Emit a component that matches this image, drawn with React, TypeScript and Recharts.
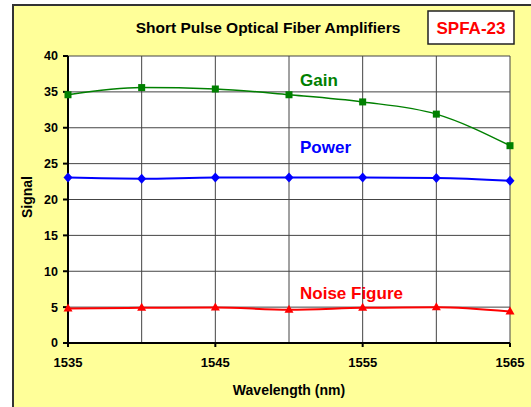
import React from 'react';
import { LineChart, Line, XAxis, YAxis, CartesianGrid } from 'recharts';

const wavelengths = [1535, 1540, 1545, 1550, 1555, 1560, 1565];
const gain = [34.6, 35.6, 35.4, 34.6, 33.6, 31.9, 27.5];
const power = [23.05, 22.9, 23.05, 23.05, 23.05, 23.0, 22.6];
const noiseFigure = [4.8, 4.9, 4.95, 4.65, 4.9, 5.0, 4.4];

const xTicks = [1535, 1540, 1545, 1550, 1555, 1560, 1565];
const xLabelTicks = [1535, 1545, 1555, 1565];
const yTicks = [0, 5, 10, 15, 20, 25, 30, 35, 40];

const data = wavelengths.map((w, i) => ({
  w,
  gain: gain[i],
  power: power[i],
  noise: noiseFigure[i],
}));

const FONT = '"Liberation Sans", Arial, sans-serif';

const XTick = (props: any) => {
  const { x, y, payload } = props;
  if (!xLabelTicks.includes(payload.value)) return <g />;
  return (
    <g>
      <line x1={x} x2={x} y1={y - 8} y2={y - 4} stroke="#000" strokeWidth={2} />
      <text x={x} y={y + 16} textAnchor="middle" fontFamily={FONT} fontWeight="bold" fontSize={13} fill="#000">
        {payload.value}
      </text>
    </g>
  );
};

const squareDot = (props: any) => {
  const { cx, cy, index } = props;
  return <rect key={`g${index}`} x={cx - 3.5} y={cy - 3.5} width={7} height={7} fill="#008000" />;
};
const diamondDot = (props: any) => {
  const { cx, cy, index } = props;
  return (
    <polygon
      key={`p${index}`}
      points={`${cx},${cy - 5} ${cx + 4.5},${cy} ${cx},${cy + 5} ${cx - 4.5},${cy}`}
      fill="#0000FF"
    />
  );
};
const triangleDot = (props: any) => {
  const { cx, cy, index } = props;
  return (
    <polygon
      key={`n${index}`}
      points={`${cx},${cy - 5} ${cx + 4.5},${cy + 3} ${cx - 4.5},${cy + 3}`}
      fill="#FF0000"
    />
  );
};

export default function App() {
  return (
    <div style={{ position: 'absolute', left: 0, top: 0, width: 531, height: 407, overflow: 'hidden', background: '#fff' }}>
      <div
        style={{
          position: 'absolute',
          left: 12,
          top: 4,
          width: 540,
          height: 420,
          background: '#FFFF99',
          borderLeft: '2px solid #333',
          borderTop: '2px solid #333',
        }}
      />
      <div style={{ position: 'absolute', left: 0, top: 0 }}>
        <LineChart width={531} height={407} data={data} margin={{ top: 56, right: 21, left: 28, bottom: 34 }}>
          <CartesianGrid fill="#fff" stroke="#444" strokeWidth={1} />
          <XAxis
            dataKey="w"
            type="number"
            domain={[1535, 1565]}
            ticks={xTicks}
            interval={0}
            tickLine={false}
            axisLine={{ stroke: '#000', strokeWidth: 2 }}
            tick={<XTick />}
            height={30}
          />
          <YAxis
            type="number"
            domain={[0, 40]}
            ticks={yTicks}
            interval={0}
            width={40}
            tickSize={5}
            tickMargin={5}
            tickLine={{ stroke: '#000', strokeWidth: 2 }}
            axisLine={{ stroke: '#000', strokeWidth: 2 }}
            tick={{ fill: '#000', fontFamily: FONT, fontWeight: 'bold', fontSize: 12.5 }}
          />
          <Line type="monotone" dataKey="gain" stroke="#008000" strokeWidth={1.5} dot={squareDot} isAnimationActive={false} />
          <Line type="monotone" dataKey="power" stroke="#0000FF" strokeWidth={2} dot={diamondDot} isAnimationActive={false} />
          <Line type="monotone" dataKey="noise" stroke="#FF0000" strokeWidth={2} dot={triangleDot} isAnimationActive={false} />
        </LineChart>
      </div>
      <svg width={531} height={407} style={{ position: 'absolute', left: 0, top: 0, pointerEvents: 'none' }}>
        <text x={268} y={33} textAnchor="middle" fontFamily={FONT} fontWeight="bold" fontSize={15.5} fill="#000">
          Short Pulse Optical Fiber Amplifiers
        </text>
        <rect x={428} y={11} width={86} height={33} fill="#fff" stroke="#222" strokeWidth={1.5} />
        <text x={471} y={34} textAnchor="middle" fontFamily={FONT} fontWeight="bold" fontSize={17} fill="#FF0000">
          SPFA-23
        </text>
        <text x={300} y={86} fontFamily={FONT} fontWeight="bold" fontSize={17} fill="#008000">Gain</text>
        <text x={300} y={153} fontFamily={FONT} fontWeight="bold" fontSize={17} fill="#0000FF">Power</text>
        <text x={300} y={299} fontFamily={FONT} fontWeight="bold" fontSize={17} fill="#FF0000">Noise Figure</text>
        <text
          x={0}
          y={0}
          transform="translate(32,197) rotate(-90)"
          textAnchor="middle"
          fontFamily={FONT}
          fontWeight="bold"
          fontSize={14}
          fill="#000"
        >
          Signal
        </text>
        <text x={289} y={395} textAnchor="middle" fontFamily={FONT} fontWeight="bold" fontSize={14} fill="#000">
          Wavelength (nm)
        </text>
      </svg>
    </div>
  );
}
